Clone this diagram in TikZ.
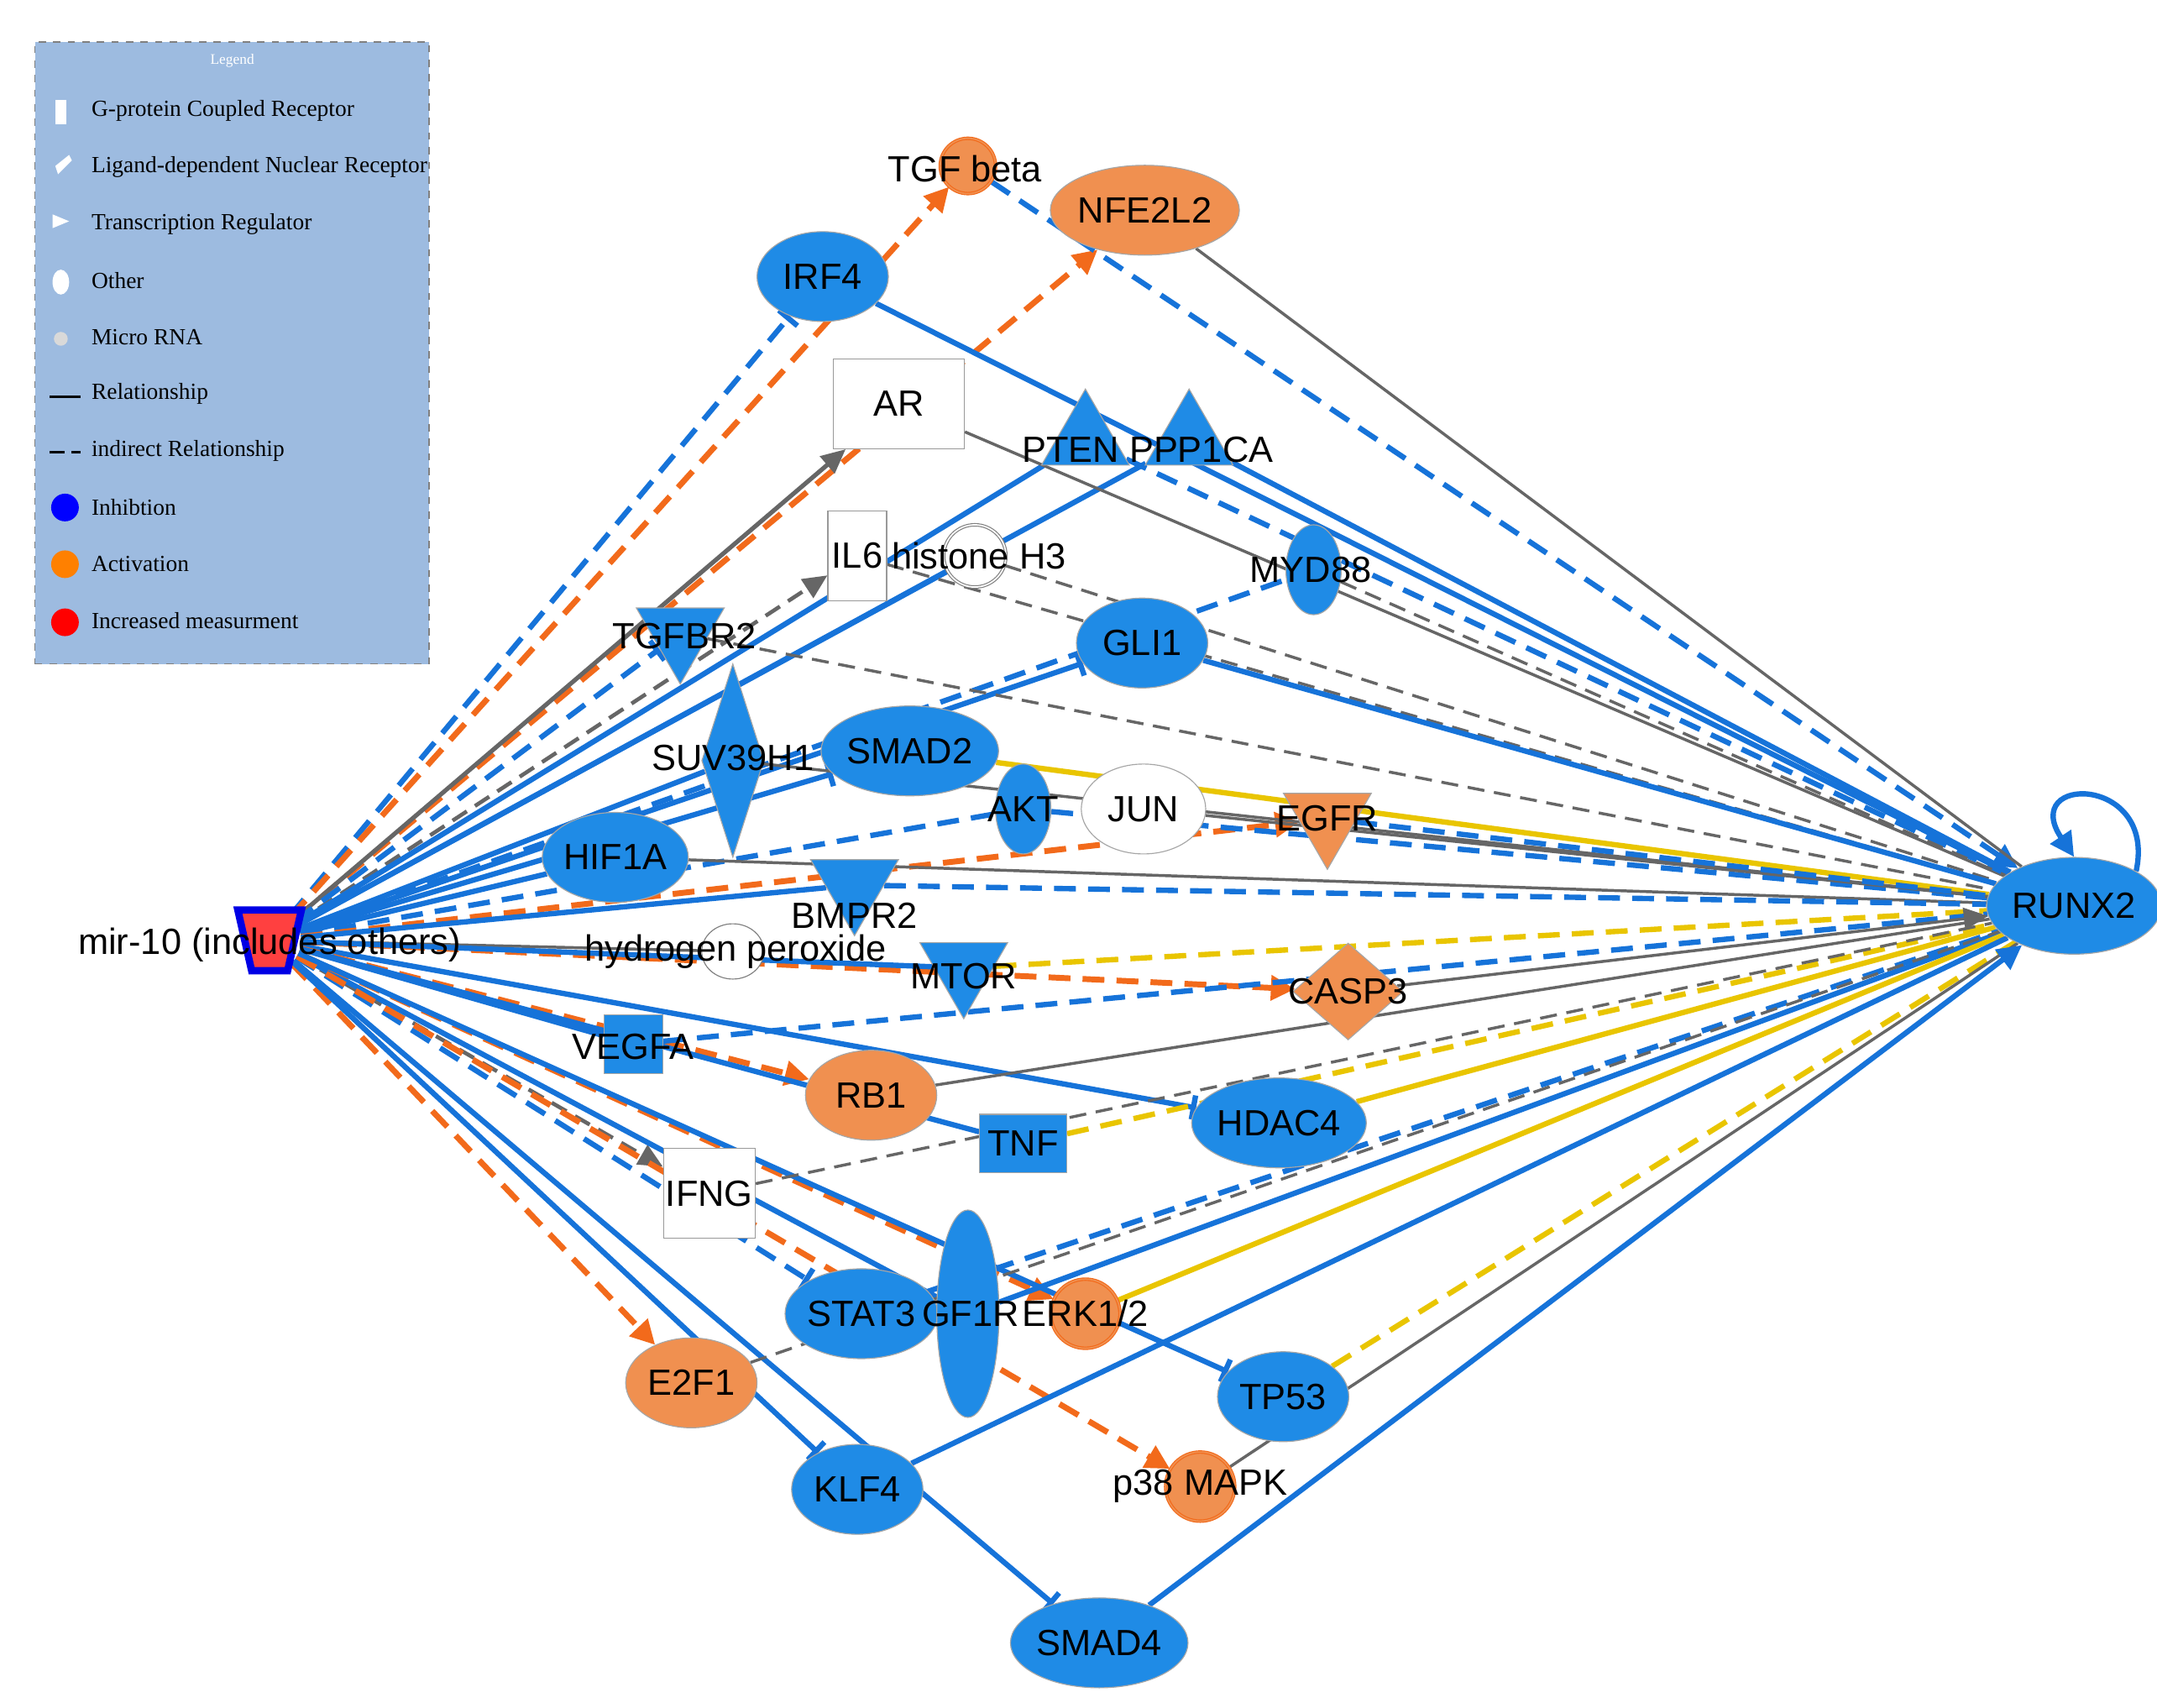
\documentclass[tikz,border=0pt]{standalone}
\usepackage{fontspec}
\setmainfont{Liberation Sans}
\newfontfamily\legfont{Liberation Serif}
\usetikzlibrary{shapes.geometric,arrows.meta,backgrounds}
\definecolor{ipablue}{HTML}{1F8BE6}
\definecolor{lineblue}{HTML}{1673D9}
\definecolor{ipaorange}{HTML}{F09050}
\definecolor{lineorange}{HTML}{F26A1B}
\definecolor{ipayellow}{HTML}{E9C500}
\definecolor{leggray}{HTML}{9DBBE0}
\tikzset{
  txt/.style={font=\fontsize{15}{17}\selectfont},
  gene/.style={ellipse, fill=ipablue, draw=gray!70, txt, minimum width=1.9cm, minimum height=1.3cm, inner sep=0pt},
  ogene/.style={gene, fill=ipaorange},
  wgene/.style={gene, fill=white},
  box/.style={rectangle, fill=white, draw=gray!80, txt, minimum width=0.85cm, minimum height=1.3cm, inner sep=1pt},
  tri/.style={isosceles triangle, shape border rotate=90, isosceles triangle apex angle=60, fill=ipablue, draw=gray!70, minimum size=1.1cm, inner sep=0pt},
  itri/.style={tri, shape border rotate=-90},
  blob/.style={circle, fill=ipaorange, draw=lineorange, double=ipaorange, minimum size=0.8cm, inner sep=0pt},
  inh/.style={lineblue, line width=2.2pt, -{Bar[width=10pt]}},
  inhd/.style={inh, dash pattern=on 9pt off 5pt},
  blu/.style={lineblue, line width=2.2pt},
  blud/.style={blu, dash pattern=on 9pt off 5pt},
  act/.style={lineorange, line width=2.4pt, dash pattern=on 9pt off 5pt, -{Triangle[width=10pt,length=10pt]}},
  gra/.style={gray!80!black, line width=1.2pt},
  grad/.style={gra, dash pattern=on 7pt off 4pt},
  graa/.style={gra, line width=1.8pt, -{Triangle[width=9pt,length=10pt]}},
  yel/.style={ipayellow, line width=2.2pt},
  yeld/.style={yel, dash pattern=on 9pt off 5pt},
  leg/.style={font=\legfont\fontsize{9.5}{11}\selectfont, anchor=west}
}
\begin{document}
\begin{tikzpicture}[x=0.02cm, y=-0.02cm]
\useasboundingbox (0,0) rectangle (1560,1235);

% legend
\node[draw=gray, fill=leggray, dashed, minimum width=5.7cm, minimum height=9cm, anchor=north west] (legbox) at (25,30) {};
\node[font=\legfont\fontsize{6}{7}\selectfont, text=white] (legtitle) at (168,44) {Legend};
\foreach \t [count=\i] in {G-protein Coupled Receptor, Ligand-dependent Nuclear Receptor, Transcription Regulator, Other, Micro RNA, Relationship, indirect Relationship, Inhibtion, Activation, Increased measurment}
  \node[leg] (leg\i) at (60,80+41*\i-41) {\t};
\fill[white] (40,72) rectangle (48,90);
\fill[white] (40,120) -- (50,112) -- (52,116) -- (42,126) -- cycle;
\fill[white] (38,155) -- (50,160) -- (38,165) -- cycle;
\fill[white] (44,204) ellipse (6 and 9);
\fill[white!70!gray] (44,245) circle (5);
\draw[black, line width=1.2pt] (36,287) -- (58,287);
\draw[black, line width=1.2pt, dash pattern=on 6pt off 3pt] (36,327) -- (58,327);
\fill[blue] (47,367) circle (10);
\fill[orange] (47,408) circle (10);
\fill[red] (47,450) circle (10);

% nodes
\node[circle, minimum size=0.9cm, inner sep=0pt] (mir) at (195,680) {};
\filldraw[fill=red!75!white, draw=blue!90!black, line width=3pt] (172,658) -- (218,658) -- (208,702) -- (182,702) -- cycle;
\node[txt] (mirlabel) at (195,683) {mir-10 (includes others)};
\node[gene, minimum width=2cm, minimum height=1.4cm] (runx) at (1500,655) {RUNX2};
\node[blob] (tgfb) at (700,120) {};
\node[txt] (tgfblabel) at (698,122) {TGF beta};
\node[ogene] (nfe) at (828,152) {NFE2L2};
\node[gene] (irf) at (595,200) {IRF4};
\node[box, minimum width=1.9cm] (ar) at (650,292) {AR};
\node[tri] (pten) at (785,318) {};
\node[tri] (ppp) at (860,318) {};
\node[txt] (ptenlabel) at (830,325) {PTEN PPP1CA};
\node[box] (il6) at (620,402) {IL6};
\node[circle, draw=gray, double, fill=white, minimum size=0.9cm] (hist) at (705,402) {};
\node[txt] (histlabel) at (708,402) {histone H3};
\node[gene, minimum width=0.8cm, minimum height=1.3cm] (myd) at (950,412) {};
\node[txt] (mydlabel) at (948,412) {MYD88};
\node[gene] (gli) at (826,465) {GLI1};
\node[itri] (tgfr) at (492,458) {};
\node[txt] (tgfrlabel) at (495,460) {TGFBR2};
\node[diamond, fill=ipablue, draw=gray!70, minimum width=0.9cm, minimum height=2.8cm, inner sep=0pt, aspect=0.3] (suv) at (530,550) {};
\node[txt] (suvlabel) at (530,548) {SUV39H1};
\node[gene] (smad2) at (658,543) {SMAD2};
\node[gene, minimum width=0.8cm, minimum height=1.3cm] (akt) at (740,585) {};
\node[txt] (aktlabel) at (740,585) {AKT};
\node[wgene, minimum width=1.8cm] (jun) at (827,585) {JUN};
\node[itri, fill=ipaorange] (egfr) at (960,592) {};
\node[txt] (egfrlabel) at (960,592) {EGFR};
\node[gene] (hif) at (445,620) {HIF1A};
\node[itri] (bmpr) at (618,640) {};
\node[txt] (bmprlabel) at (618,662) {BMPR2};
\node[ellipse, fill=white, draw=gray, minimum width=0.9cm, minimum height=0.8cm] (hp) at (530,688) {};
\node[txt] (hplabel) at (532,688) {hydrogen peroxide};
\node[itri] (mtor) at (697,700) {};
\node[txt] (mtorlabel) at (697,706) {MTOR};
\node[diamond, fill=ipaorange, draw=gray!70, minimum width=1.6cm, minimum height=1.4cm, inner sep=0pt] (casp) at (975,717) {};
\node[txt] (casplabel) at (975,717) {CASP3};
\node[rectangle, fill=ipablue, draw=gray!70, minimum size=0.85cm] (vegf) at (458,755) {};
\node[txt] (vegflabel) at (458,757) {VEGFA};
\node[ogene] (rb1) at (630,792) {RB1};
\node[rectangle, fill=ipablue, draw=gray!70, minimum size=0.85cm, txt] (tnf) at (740,827) {TNF};
\node[gene] (hdac) at (925,812) {HDAC4};
\node[box] (ifng) at (513,863) {IFNG};
\node[gene] (stat) at (623,950) {STAT3};
\node[ellipse, fill=ipablue, draw=gray!70, minimum width=0.9cm, minimum height=3cm] (gf1r) at (700,950) {};
\node[txt] (gf1rlabel) at (702,950) {GF1R};
\node[blob, minimum size=1cm] (erk) at (785,950) {};
\node[txt] (erklabel) at (785,950) {ERK1/2};
\node[gene] (tp53) at (928,1010) {TP53};
\node[ogene] (e2f1) at (500,1000) {E2F1};
\node[gene] (klf) at (620,1077) {KLF4};
\node[blob, minimum size=1cm] (p38) at (868,1075) {};
\node[txt] (p38label) at (868,1075) {p38 MAPK};
\node[gene] (smad4) at (795,1188) {SMAD4};

\begin{scope}[on background layer]
\fill[white] (0,0) rectangle (1560,1235);
% edges from mir-10
\draw[inhd] (mir) -- (irf);
\draw[act] (mir) -- (tgfb);
\draw[act] (mir) -- (nfe);
\draw[graa] (mir) -- (ar);
\draw[grad, -{Triangle[width=9pt,length=10pt]}, line width=1.6pt] (mir) -- (il6);
\draw[blu] (mir) -- (pten);
\draw[blu] (mir) -- (ppp);
\draw[blu] (mir) -- (hist);
\draw[inh] (mir) -- (gli);
\draw[inhd] (mir) -- (tgfr);
\draw[blud] (mir) -- (myd);
\draw[inh] (mir) -- (smad2);
\draw[blu] (mir) -- (suv);
\draw[blu] (mir) -- (hif);
\draw[blud] (mir) -- (akt);
\draw[act] (mir) -- (egfr);
\draw[blu] (mir) -- (bmpr);
\draw[gra] (mir) -- (hp);
\draw[act] (mir) -- (casp);
\draw[blu] (mir) -- (mtor);
\draw[inh] (mir) -- (hdac);
\draw[blu] (mir) -- (vegf);
\draw[act] (mir) -- (rb1);
\draw[blu] (mir) -- (tnf);
\draw[grad, -{Triangle[width=9pt,length=10pt]}, line width=1.6pt] (mir) -- (ifng);
\draw[inhd] (mir) -- (stat);
\draw[blu] (mir) -- (gf1r);
\draw[act] (mir) -- (erk);
\draw[act] (mir) -- (p38);
\draw[act] (mir) -- (e2f1);
\draw[inh] (mir) -- (klf);
\draw[inh] (mir) -- (smad4);
\draw[inh] (mir) -- (tp53);

% edges to RUNX2
\draw[blud, -{Triangle[width=10pt,length=10pt]}] (tgfb) -- (runx);
\draw[gra] (nfe) -- (runx);
\draw[blu] (irf) -- (runx);
\draw[gra] (ar) -- (runx);
\draw[blud] (pten) -- (runx);
\draw[blu] (ppp) -- (runx);
\draw[grad] (il6) -- (runx);
\draw[grad] (hist) -- (runx);
\draw[grad] (myd) -- (runx);
\draw[blu] (gli) -- (runx);
\draw[grad] (tgfr) -- (runx);
\draw[yel] (smad2) -- (runx);
\draw[gra] (suv) -- (runx);
\draw[blud] (akt) -- (runx);
\draw[gra] (jun) -- (runx);
\draw[blud] (egfr) -- (runx);
\draw[gra] (hif) -- (runx);
\draw[blud] (bmpr) -- (runx);
\draw[yeld] (mtor) -- (runx);
\draw[blud] (vegf) -- (runx);
\draw[gra, -{Triangle[width=9pt,length=10pt]}] (casp) -- (runx);
\draw[gra] (rb1) -- (runx);
\draw[yeld] (tnf) -- (runx);
\draw[yel] (hdac) -- (runx);
\draw[grad] (ifng) -- (runx);
\draw[blud] (stat) -- (runx);
\draw[blu] (gf1r) -- (runx);
\draw[yel] (erk) -- (runx);
\draw[yeld] (tp53) -- (runx);
\draw[grad] (e2f1) -- (runx);
\draw[blu] (klf) -- (runx);
\draw[gra] (p38) -- (runx);
\draw[blu, -{Triangle[width=10pt,length=10pt]}] (smad4) -- (runx);
\draw[blu, -{Triangle[width=10pt,length=10pt]}] (runx.north east) .. controls (1560,560) and (1460,560) .. (runx.north);
\end{scope}
\end{tikzpicture}
\end{document}
